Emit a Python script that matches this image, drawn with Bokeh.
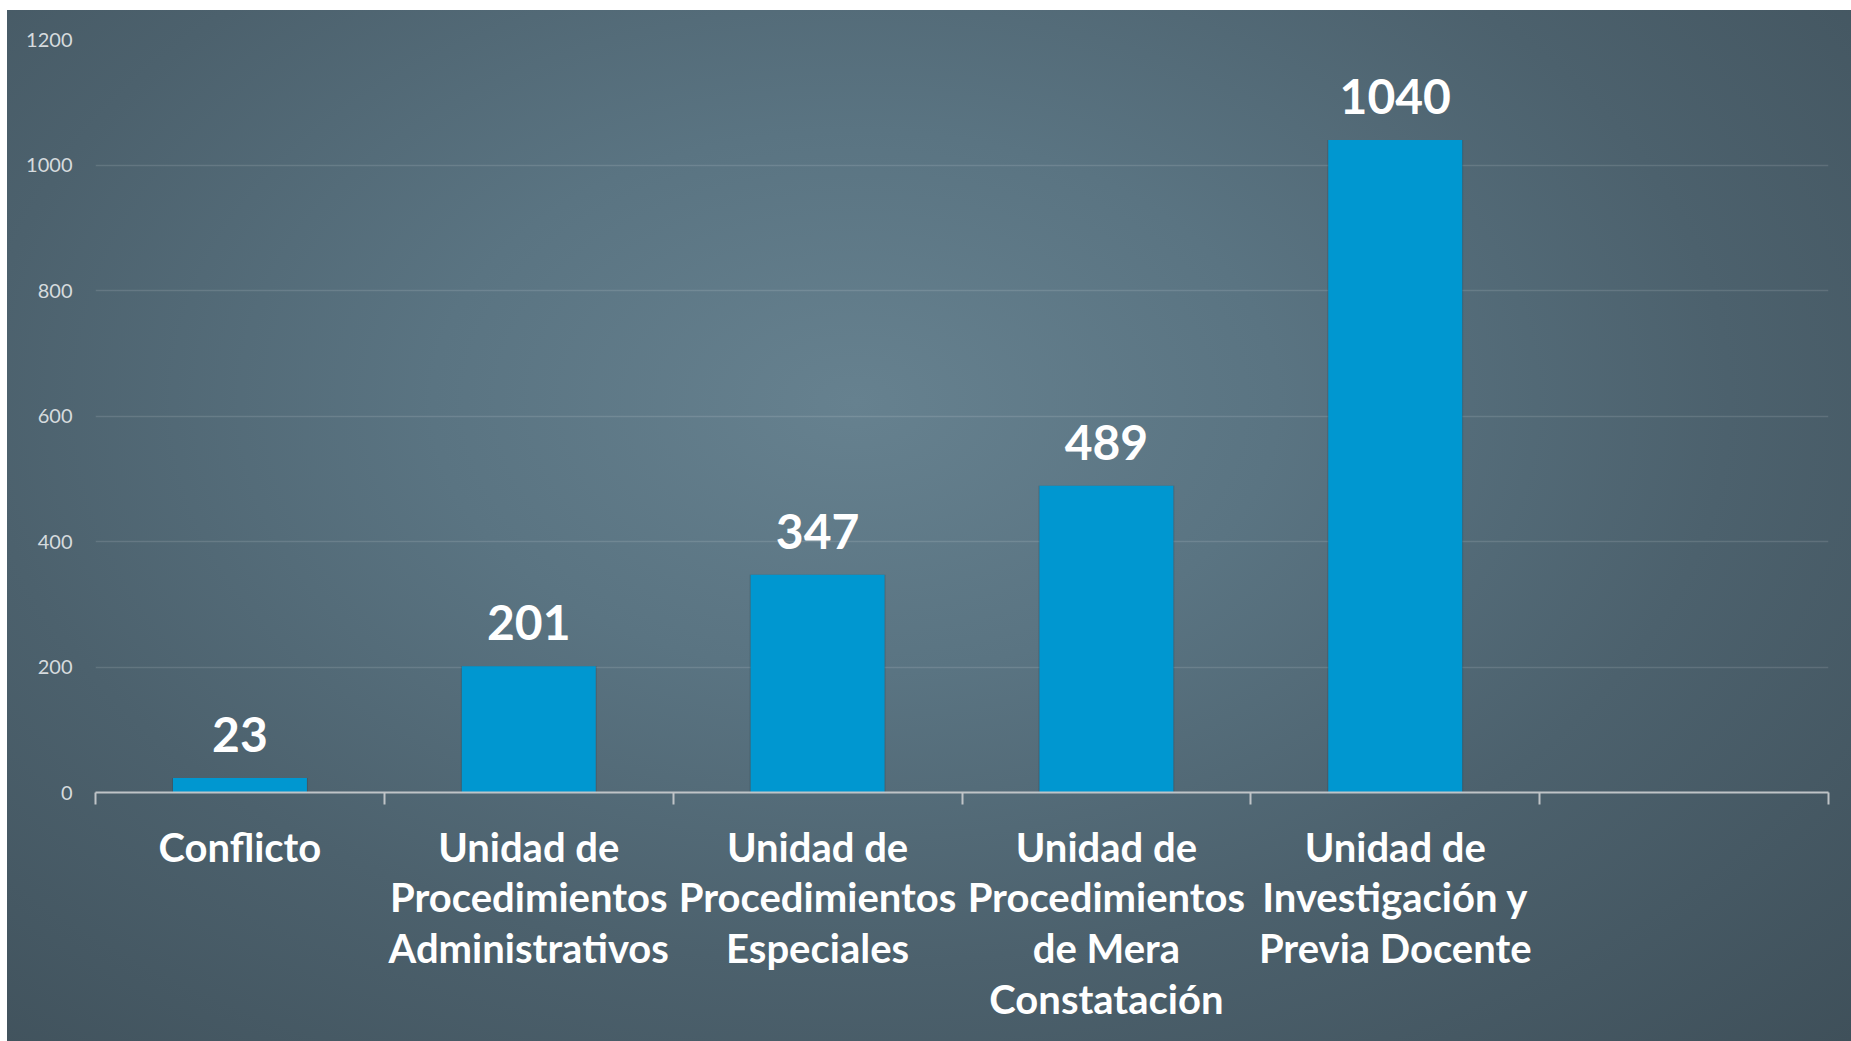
from bokeh.plotting import figure
from bokeh.models import ColumnDataSource, Range1d, FixedTicker, LabelSet, LinearAxis, Spacer
from bokeh.layouts import column, row
from bokeh.core.properties import value
from bokeh.embed import file_html
from bokeh.resources import INLINE

categories = [
    "Conflicto",
    "Unidad de\nProcedimientos\nAdministrativos",
    "Unidad de\nProcedimientos\nEspeciales",
    "Unidad de\nProcedimientos\nde Mera\nConstatación",
    "Unidad de\nInvestigación y\nPrevia Docente",
]
values = [23, 201, 347, 489, 1040]
n_slots = 6  # the category axis has one empty slot at the end
y_ticks = [0, 200, 400, 600, 800, 1000, 1200]

FONT = "Lato"
BAR_COLOR = "#0097d0"

x_pos = [i + 0.5 for i in range(len(categories))]
source = ColumnDataSource(dict(x=x_pos, top=values, label=[str(v) for v in values]))

p = figure(
    width=1844, height=1031,
    x_range=Range1d(0, n_slots), y_range=Range1d(0, 1200),
    output_backend="svg", toolbar_location=None,
    x_axis_location=None, y_axis_location=None,
    min_border_left=88, min_border_right=23, min_border_top=29, min_border_bottom=249,
)
p.styles = {
    "background": "radial-gradient(ellipse farthest-corner at 46% 38%, #66818f 0%, #5a7482 30%, #4c616d 62%, #3f505a 100%)"
}
p.background_fill_alpha = 0
p.border_fill_alpha = 0
p.outline_line_alpha = 0

# bar shadow
p.vbar(x="x", top="top", bottom=-6, width=0.47, source=source,
       fill_color="#1f2c33", fill_alpha=0.25, line_alpha=0)
p.vbar(x="x", top="top", width=0.464, source=source,
       fill_color=BAR_COLOR, line_alpha=0)

# x axis
xaxis = LinearAxis(
    ticker=FixedTicker(ticks=x_pos, minor_ticks=list(range(n_slots + 1))),
)
xaxis.major_label_overrides = {x: c for x, c in zip(x_pos, categories)}
xaxis.axis_line_color = "#bfc4c7"
xaxis.axis_line_width = 2
xaxis.major_tick_line_alpha = 0
xaxis.major_tick_out = 0
xaxis.major_tick_in = 0
xaxis.minor_tick_line_color = "#bfc4c7"
xaxis.minor_tick_line_width = 2
xaxis.minor_tick_out = 12
xaxis.minor_tick_in = 0
xaxis.major_label_standoff = 18
xaxis.major_label_text_font = FONT
xaxis.major_label_text_font_style = "bold"
xaxis.major_label_text_font_size = "40px"
xaxis.major_label_text_color = "white"
xaxis.major_label_text_line_height = 1.06
p.add_layout(xaxis, "below")

# y axis
yaxis = LinearAxis(ticker=FixedTicker(ticks=y_ticks))
yaxis.axis_line_alpha = 0
yaxis.major_tick_line_alpha = 0
yaxis.major_tick_out = 0
yaxis.major_tick_in = 0
yaxis.minor_tick_line_alpha = 0
yaxis.major_label_standoff = 23
yaxis.major_label_text_font = FONT
yaxis.major_label_text_font_size = "20px"
yaxis.major_label_text_color = "#d6dbde"
p.add_layout(yaxis, "left")

p.xgrid.visible = False
p.ygrid.ticker = FixedTicker(ticks=y_ticks[1:])
p.ygrid.grid_line_color = "white"
p.ygrid.grid_line_alpha = 0.12
p.ygrid.grid_line_width = 1.5

labels = LabelSet(
    x="x", y="top", text="label", source=source,
    y_offset=26, text_align="center", text_baseline="alphabetic",
    text_font=value(FONT), text_font_style="bold", text_font_size="48px",
    text_color="white",
)
p.add_layout(labels)

layout = column(Spacer(height=10), row(Spacer(width=7), p))
open("out.html", "w").write(file_html(layout, INLINE))
